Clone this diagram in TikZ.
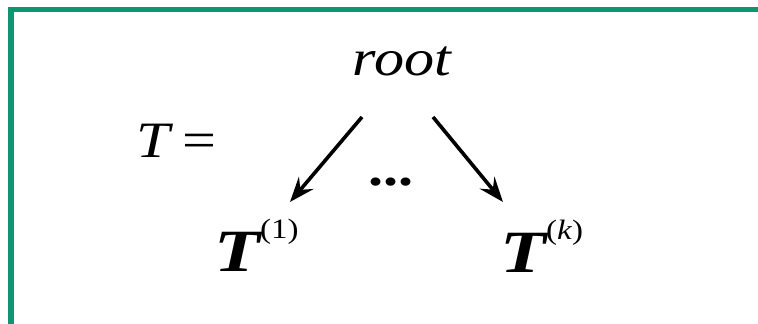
\documentclass[tikz,border=0pt]{standalone}
\usepackage{fontspec}
\setmainfont{Liberation Serif}
\usetikzlibrary{positioning,arrows.meta}
\definecolor{framegreen}{RGB}{14,150,115}
\newcommand{\wide}[1]{\scalebox{1.18}[1]{#1}}
\newcommand{\wider}[1]{\scalebox{1.25}[1]{#1}}
\begin{document}
\begin{tikzpicture}[
      x=1pt, y=1pt,
      txt/.style={inner sep=0pt, font=\fontsize{51}{56}\selectfont},
      sub/.style={inner sep=0pt, font=\fontsize{60}{66}\selectfont},
      arr/.style={-{Stealth[length=25pt, width=19pt, inset=9pt]}, line width=3.6pt},
    ]
    \useasboundingbox (0,0) rectangle (758,324);
    \draw[framegreen, line width=5.5pt] (11,0) -- (11,314.5) -- (758,314.5);
    \node[txt, anchor=base west] (eq)   at (136,166) {\wide{\itshape T} \wide{=}};
    \node[txt, anchor=base]      (root) at (402,248) {\wide{\itshape root}};
    \node[txt, anchor=base]      (dots) at (391,138) {\wide{\bfseries ...}};
    \node[sub, anchor=base west] (t1)   at (214,52)
      {\wider{\bfseries\itshape T}\raisebox{33pt}{\fontsize{28}{32}\selectfont\wide{(1)}}};
    \node[sub, anchor=base west] (tk)   at (500,51)
      {\wider{\bfseries\itshape T}\raisebox{33pt}{\fontsize{28}{32}\selectfont\wide{(\itshape k\/\upshape)}}};
    \draw[arr] ([shift={(-40pt,-41pt)}]root.base) -- ([shift={(76pt,70pt)}]t1.base west);
    \draw[arr] ([shift={(31pt,-41pt)}]root.base) -- ([shift={(3pt,71pt)}]tk.base west);
  \end{tikzpicture}
\end{document}
